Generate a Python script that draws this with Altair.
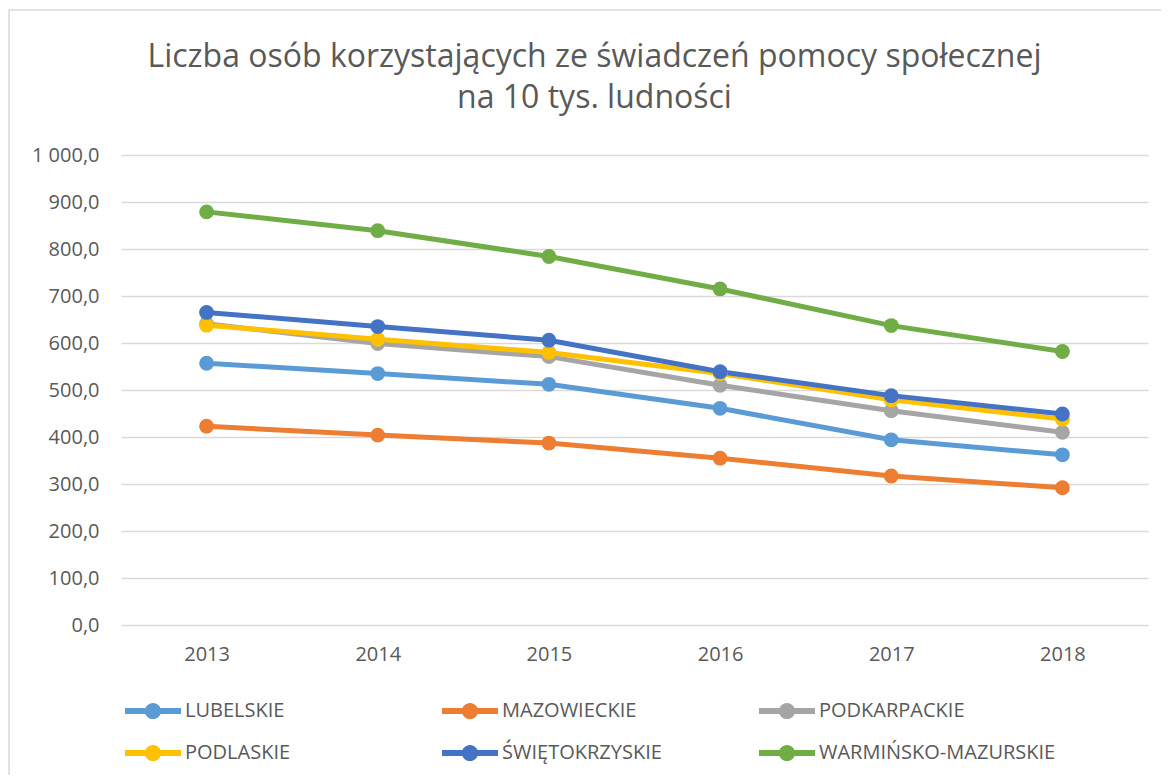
import altair as alt
import pandas as pd

years = ["2013", "2014", "2015", "2016", "2017", "2018"]
series_names = ["LUBELSKIE", "MAZOWIECKIE", "PODKARPACKIE", "PODLASKIE", "ŚWIĘTOKRZYSKIE", "WARMIŃSKO-MAZURSKIE"]
lubelskie = [557, 535, 512, 461, 394, 362]
mazowieckie = [423, 404, 387, 355, 317, 292]
podkarpackie = [641, 599, 571, 510, 456, 410]
podlaskie = [638, 608, 580, 535, 479, 438]
swietokrzyskie = [665, 635, 606, 539, 488, 449]
warminsko = [879, 839, 784, 715, 637, 582]
colors = ["#5B9BD5", "#ED7D31", "#A5A5A5", "#FFC000", "#4472C4", "#70AD47"]

all_values = [lubelskie, mazowieckie, podkarpackie, podlaskie, swietokrzyskie, warminsko]
rows = []
for name, vals in zip(series_names, all_values):
    for y, v in zip(years, vals):
        rows.append({"rok": y, "wojewodztwo": name, "wartosc": v})
df = pd.DataFrame(rows)

symbol_path = ("M-1,-0.11 L1,-0.11 L1,0.11 L-1,0.11 Z "
               "M-0.29,0 A0.29,0.29 0 1,1 0.29,0 A0.29,0.29 0 1,1 -0.29,0 Z")

color = alt.Color(
    "wojewodztwo:N",
    scale=alt.Scale(domain=series_names, range=colors),
    sort=series_names,
    legend=alt.Legend(
        title=None,
        orient="none",
        legendX=4,
        legendY=528,
        direction="horizontal",
        columns=3,
        gridAlign="all",
        columnPadding=20,
        rowPadding=4,
        symbolType=symbol_path,
        symbolSize=3136,
        symbolStrokeWidth=0,
        labelFont="Open Sans",
        labelFontSize=20,
        labelColor="#595959",
        labelOffset=4,
        labelLimit=400,
    ),
)

base = alt.Chart(df)

lines = base.mark_line(strokeWidth=5, point=alt.OverlayMarkDef(filled=True, size=220, opacity=1)).encode(
    x=alt.X("rok:O", sort=years, title=None,
            scale=alt.Scale(paddingInner=0, paddingOuter=0.5),
            axis=alt.Axis(labelAngle=0, labelFont="Open Sans", labelFontSize=20, labelColor="#595959",
                          labelPadding=19, ticks=False, domain=False, grid=False)),
    y=alt.Y("wartosc:Q", title=None,
            scale=alt.Scale(domain=[0, 1000], nice=False),
            axis=alt.Axis(values=[0, 100, 200, 300, 400, 500, 600, 700, 800, 900, 1000],
                          labelExpr="replace(replace(format(datum.value, ',.1f'), ',', ' '), '.', ',')",
                          labelFont="Open Sans", labelFontSize=20, labelColor="#595959",
                          labelPadding=22, ticks=False, domain=False,
                          gridColor="#D9D9D9", gridWidth=1.5)),
    color=color,
    order=alt.Order("rok:O"),
)

border = alt.Chart(alt.Data(values=[{}])).mark_rect(
    fill=None, stroke="#D9D9D9", strokeWidth=1.5
).encode(
    x=alt.value(-112), x2=alt.value(1200),
    y=alt.value(-145), y2=alt.value(700),
)

chart = alt.layer(border, lines).properties(
    width=1027,
    height=470,
    padding={"left": 113, "top": 147, "right": 13, "bottom": 150},
    autosize=alt.AutoSizeParams(type="none"),
    title=alt.TitleParams(
        text=["Liczba osób korzystających ze świadczeń pomocy społecznej", "na 10 tys. ludności"],
        font="Open Sans",
        fontSize=32,
        fontWeight="normal",
        color="#595959",
        anchor="middle",
        dx=-40,
        dy=106,
        offset=0,
        lineHeight=41,
    ),
).configure_view(stroke=None)

chart.save("out.html", embed_options={"renderer": "svg", "actions": False})
